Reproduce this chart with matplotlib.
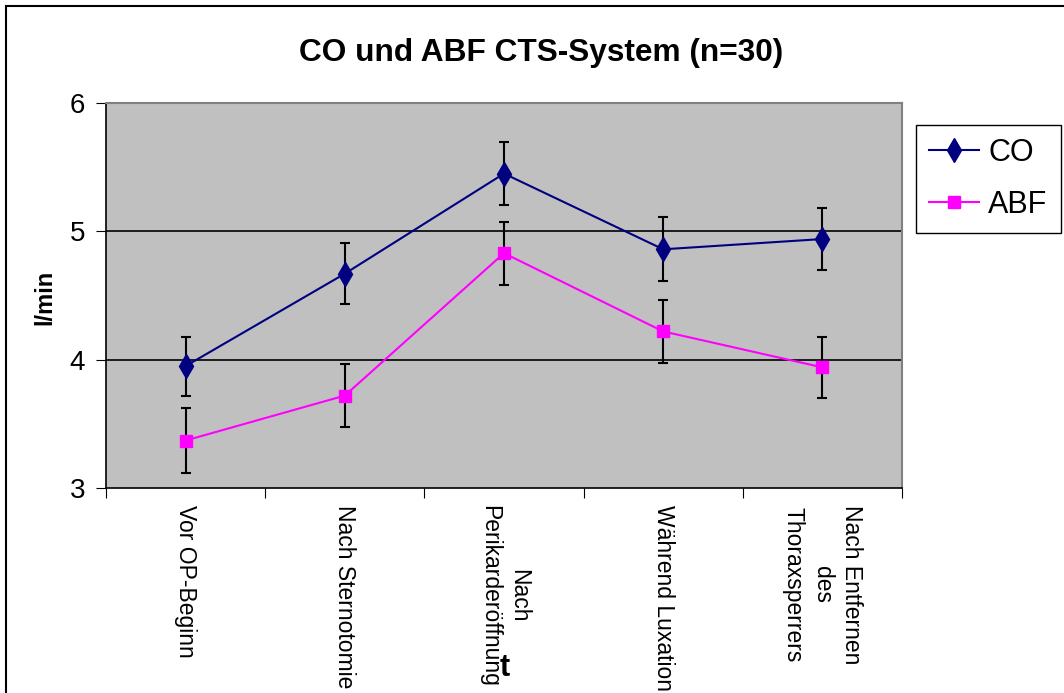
import matplotlib
matplotlib.use("Agg")
import matplotlib.pyplot as plt
from matplotlib.lines import Line2D
import numpy as np

plt.rcParams['font.family'] = ['Liberation Sans', 'DejaVu Sans']

# data
categories = ["Vor OP-Beginn", "Nach Sternotomie", "Nach\nPerikarderöffnung",
              "Während Luxation", "Nach Entfernen\ndes\nThoraxsperrers"]
co = [3.95, 4.67, 5.45, 4.86, 4.94]
co_err = [0.23, 0.24, 0.245, 0.25, 0.245]
abf = [3.37, 3.72, 4.83, 4.22, 3.94]
abf_err = [0.25, 0.245, 0.245, 0.245, 0.235]

co_color = '#000080'
abf_color = '#FF00FF'

fig = plt.figure(figsize=(10.64, 6.93), dpi=100)
ax = fig.add_axes([106/1064, 1 - 488/693, (902-106)/1064, (488-103)/693])
ax.set_facecolor('#C0C0C0')

x = np.arange(len(categories))
ax.errorbar(x, co, yerr=co_err, color=co_color, marker='d', markersize=12,
            lw=1.5, ecolor='black', elinewidth=1.5, capsize=3.5, capthick=1.5,
            zorder=3)
ax.errorbar(x, abf, yerr=abf_err, color=abf_color, marker='s', markersize=8,
            lw=1.5, ecolor='black', elinewidth=1.5, capsize=3.5, capthick=1.5,
            zorder=3)

ax.set_xlim(-0.5, len(categories) - 0.5)
ax.set_ylim(3, 6)
ax.set_yticks([3, 4, 5, 6])
for yv in [4, 5]:
    ax.axhline(yv, color='black', lw=1.2, zorder=1)

ax.set_xticks(np.arange(-0.5, len(categories)), minor=False)
ax.set_xticklabels([])
ax.set_xticks(x, minor=True)
ax.set_xticklabels(categories, minor=True, rotation=-90, ha='center', va='top',
                   multialignment='center', fontsize=16.5, linespacing=1.35)
ax.tick_params(axis='x', which='minor', length=0, pad=12)
ax.tick_params(axis='x', which='major', length=7, direction='out')
ax.tick_params(axis='y', length=7, direction='out', labelsize=20, pad=8)

for s in ['top', 'right']:
    ax.spines[s].set_color('#808080')
    ax.spines[s].set_linewidth(1.5)
for s in ['left', 'bottom']:
    ax.spines[s].set_color('black')
    ax.spines[s].set_linewidth(1.2)

fig.text(45/1064, 1 - 297/693, 'l/min', fontsize=17, fontweight='bold',
         rotation=90, ha='center', va='center')
fig.text(505/1064, 1 - 668/693, 't', fontsize=22, fontweight='bold',
         ha='center', va='center')
fig.suptitle('CO und ABF CTS-System (n=30)', fontsize=22.8, fontweight='bold',
             x=541/1064, y=1 - 53/693, va='center')

handles = [Line2D([], [], color=co_color, marker='d', markersize=12, lw=1.5),
           Line2D([], [], color=abf_color, marker='s', markersize=8, lw=1.5)]
leg = fig.legend(handles, ['CO', 'ABF'], loc='upper left',
                 bbox_to_anchor=(916/1064, 1 - 125/693), fontsize=22,
                 frameon=True, fancybox=False, edgecolor='black', framealpha=1,
                 handlelength=1.65, borderpad=0.42, labelspacing=0.72,
                 handletextpad=0.3, borderaxespad=0)
leg.get_frame().set_linewidth(1.0)

# outer chart border
fig.patches.append(plt.Rectangle((6/1064, -0.01), 1.0, 1 - 6/693 + 0.01,
                                 transform=fig.transFigure, fill=False,
                                 edgecolor='black', lw=1.5))

fig.savefig('out.png', dpi=100)
